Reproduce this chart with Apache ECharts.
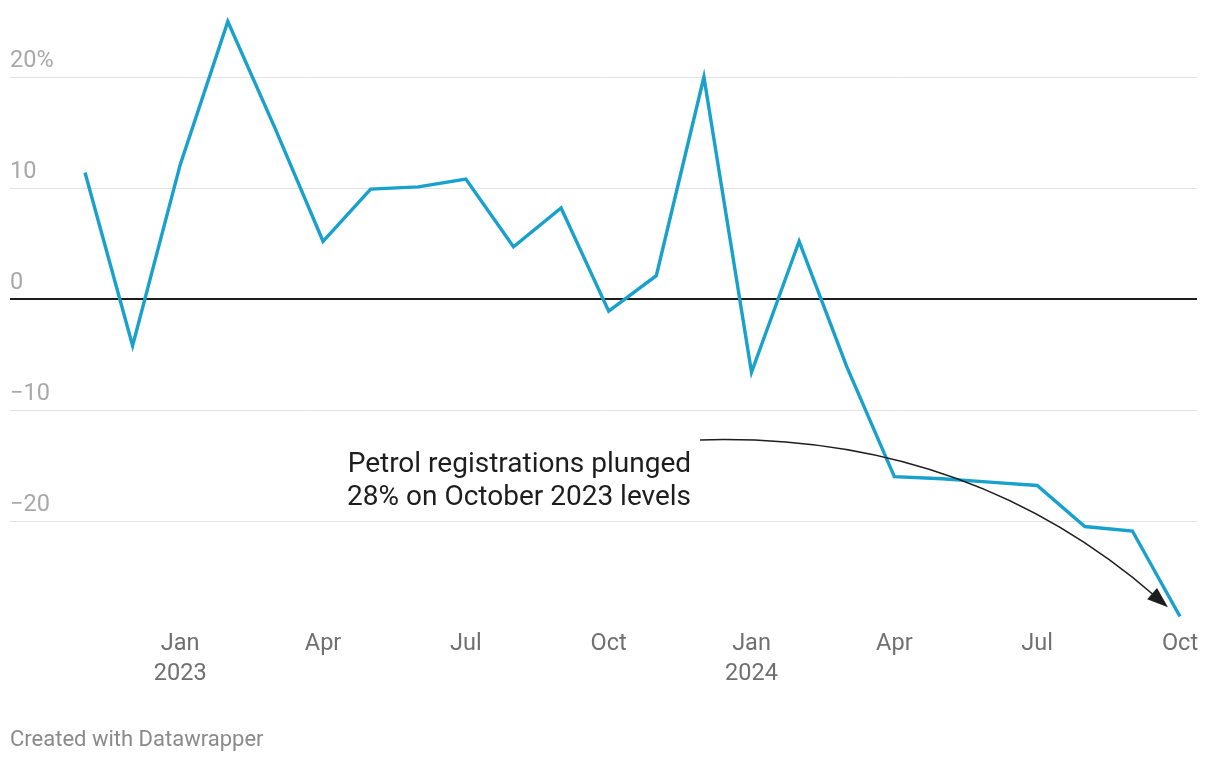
<!DOCTYPE html>
<html>
<head>
<meta charset="utf-8">
<script src="https://cdn.jsdelivr.net/npm/echarts@6/dist/echarts.min.js"></script>
<style>
html,body{margin:0;padding:0;background:#fff;}
#c{width:1220px;height:762px;}
</style>
</head>
<body>
<div id="c"></div>
<script>
// Months Nov 2022 .. Oct 2024
const months = ['Nov 2022','Dec 2022','Jan 2023','Feb 2023','Mar 2023','Apr 2023','May 2023','Jun 2023','Jul 2023','Aug 2023','Sep 2023','Oct 2023','Nov 2023','Dec 2023','Jan 2024','Feb 2024','Mar 2024','Apr 2024','May 2024','Jun 2024','Jul 2024','Aug 2024','Sep 2024','Oct 2024'];
const values = [11.4,-4.2,12.1,25.0,15.3,5.2,9.9,10.1,10.8,4.7,8.2,-1.1,2.1,20.0,-6.6,5.2,-6.1,-16.0,-16.2,-16.5,-16.8,-20.5,-20.9,-28.6];
const tickIdx = [2,5,8,11,14,17,20,23];
const tickLabels = ['Jan\n2023','Apr','Jul','Oct','Jan\n2024','Apr','Jul','Oct'];
const yTicks = [-20,-10,10,20];
const yTickLabels = ['\u221220','\u221210','10','20%'];
const annotationLines = ['Petrol registrations plunged','28% on October 2023 levels'];
const annotationAnchor = [12.73, -14.95]; // right edge, first line centre (data coords)
const arrowPts = {start:[12.92,-12.7], ctrl:[18.5,-12.0], end:[22.7,-27.6]};

const chart = echarts.init(document.getElementById('c'));
const FONT = 'Roboto';

const gridMarks = yTicks.map((v,i)=>({
  yAxis: v,
  lineStyle:{color:'#e3e3e3',width:1,type:'solid'},
  label:{show:true,position:'insideStartTop',formatter:yTickLabels[i],color:'#a8a8a8',fontSize:23.5,fontFamily:FONT,distance:[0,3.5]}
}));
gridMarks.push({
  yAxis:0,
  lineStyle:{color:'#1d1d1d',width:2,type:'solid'},
  label:{show:true,position:'insideStartTop',formatter:'0',color:'#a8a8a8',fontSize:23.5,fontFamily:FONT,distance:[0,3.5]}
});

const s = 1095/23;
chart.setOption({
  animation:false,
  grid:{left:10,right:23,top:10.4,bottom:141.1},
  xAxis:{
    type:'value',
    min:-(75/s),
    max:23+17/s,
    axisLine:{show:false},
    axisTick:{show:false},
    splitLine:{show:false},
    axisLabel:{
      customValues:tickIdx,
      formatter:(v)=>{const i=tickIdx.indexOf(Math.round(v));return i>=0?tickLabels[i]:'';},
      color:'#707070',fontSize:23.5,fontFamily:FONT,lineHeight:30,margin:8
    }
  },
  yAxis:{
    type:'value',min:-29,max:26,
    axisLine:{show:false},axisTick:{show:false},splitLine:{show:false},axisLabel:{show:false}
  },
  series:[{
    type:'line',
    data:values.map((v,i)=>[i,v]),
    symbol:'none',
    lineStyle:{color:'#18a1cd',width:3.4,join:'miter'},
    z:5,
    markLine:{silent:true,symbol:['none','none'],data:gridMarks,z:1}
  }]
});

function px(p){return chart.convertToPixel({gridIndex:0},p);}
const a = px(annotationAnchor);
const p0 = px(arrowPts.start), p1 = px(arrowPts.ctrl), p2 = px(arrowPts.end);
const dx = p2[0]-p1[0], dy = p2[1]-p1[1], L = Math.hypot(dx,dy);
const ux = dx/L, uy = dy/L;
const headLen = 21, headW = 7.5;
const tip = [p2[0]+ux*3, p2[1]+uy*3];
const base = [tip[0]-ux*headLen, tip[1]-uy*headLen];
const left = [base[0]-uy*headW, base[1]+ux*headW];
const right = [base[0]+uy*headW, base[1]-ux*headW];

chart.setOption({
  graphic:[
    {type:'bezierCurve',shape:{x1:p0[0],y1:p0[1],x2:base[0]+ux*4,y2:base[1]+uy*4,cpx1:p1[0],cpy1:p1[1]},style:{stroke:'#1d1d1d',lineWidth:1.5,fill:null},z:10},
    {type:'polygon',shape:{points:[tip,left,right]},style:{fill:'#1d1d1d'},z:10},
    {type:'text',x:a[0],y:a[1]-16.5,style:{text:annotationLines.join('\n'),font:'28px Roboto',fill:'#1d1d1d',align:'right',verticalAlign:'top',lineHeight:33},z:10},
    {type:'text',left:10,top:729,style:{text:'Created with Datawrapper',font:'22px Roboto',fill:'#8a8a8a'}}
  ]
});
</script>
</body>
</html>
